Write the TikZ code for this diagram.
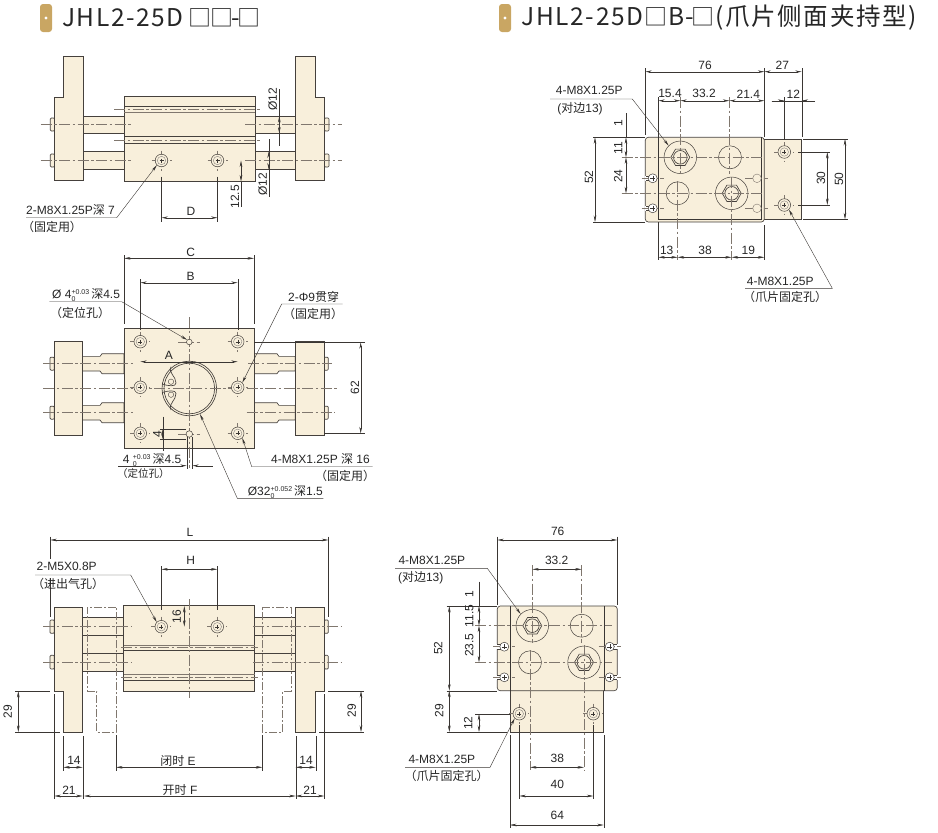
\documentclass[tikz,border=0pt]{standalone}
\usepackage{fontspec}
\setmainfont{Liberation Sans}
\newfontfamily\cjk{Noto Sans CJK SC}
\newfontfamily\titlefont[LetterSpace=6.5]{Noto Sans CJK SC}
\usetikzlibrary{arrows.meta}
\definecolor{creamc}{HTML}{F8EFDB}
\definecolor{goldc}{HTML}{C9A663}
\definecolor{linec}{HTML}{45403C}
\definecolor{thinc}{HTML}{3A3633}
\definecolor{cenc}{HTML}{80776E}
\newcommand\zh[1]{{\cjk #1}}
\newcommand\sq{{\fontsize{23}{26}\selectfont □}}
\newcommand\tol[2]{\ooalign{\raisebox{4pt}{\fontsize{7}{7}\selectfont #1}\hfil\cr\raisebox{-2.5pt}{\fontsize{7}{7}\selectfont #2}\hfil\cr}}
% small threaded hole with its cross
\newcommand\mhole[3]{
    \draw[cline] (#2-10,#3) -- (#2+10,#3) (#2,#3-10) -- (#2,#3+10);
    \node[holeout] (#1) at (#2,#3) {};
    \draw[draw=linec!70,line width=.35pt] (#2,#3) circle [radius=4.2];
    \draw[extl] (#2-2,#3) -- (#2+2,#3) (#2,#3-2) -- (#2,#3+2);
}
% large counterbore with hexagon
\newcommand\hexhole[3]{
    \node[holebig] (#1) at (#2,#3) {};
    \draw[part,fill=none] (#2,#3) +(0:9.5) -- +(60:9.5) -- +(120:9.5) -- +(180:9.5) -- +(240:9.5) -- +(300:9.5) -- cycle;
    \draw[part,fill=none] (#2,#3) circle [radius=6.8];
}
% side slot opening to the plate edge, #4 = -1 left, +1 right
\newcommand\keyslot[4]{
    \fill[white] (#2+#4*3,#3-2.4) rectangle (#2+#4*8,#3+2.4);
    \draw[part,fill=none] (#2+#4*3.5,#3-2.4) -- (#2+#4*7.2,#3-2.4) (#2+#4*3.5,#3+2.4) -- (#2+#4*7.2,#3+2.4);
    \draw[cline] (#2-11,#3) -- (#2+11,#3);
    \node[holeslot] (#1) at (#2,#3) {};
    \draw[extl] (#2-2.5,#3) -- (#2+2.5,#3) (#2,#3-2.5) -- (#2,#3+2.5);
}
\newcommand\dimh[3]{\draw[dimn] (#1,#3) -- (#2,#3);}
\newcommand\dimv[3]{\draw[dimn] (#3,#1) -- (#3,#2);}
\begin{document}
\begin{tikzpicture}
    [x=1pt,y=-1pt,
    part/.style={draw=linec,fill=creamc,line width=.65pt},
    cline/.style={draw=cenc,line width=.45pt,dash pattern=on 11pt off 2.5pt on 2.5pt off 2.5pt},
    ghost/.style={draw=cenc,line width=.45pt,dash pattern=on 8pt off 2pt on 2pt off 2pt},
    extl/.style={draw=thinc,line width=.4pt},
    dimn/.style={draw=thinc,line width=.4pt,{Stealth[length=6.5pt,width=2.6pt]}-{Stealth[length=6.5pt,width=2.6pt]}},
    leader/.style={draw=thinc,line width=.4pt,-{Stealth[length=6.5pt,width=2.6pt]}},
    lbl/.style={inner sep=0pt,text=black!85,font=\fontsize{12}{13}\selectfont},
    titletxt/.style={inner sep=0pt,anchor=west,text=black!85,font=\titlefont\fontsize{24.5}{28}\selectfont},
    holeout/.style={circle,draw=linec,fill=creamc,line width=.5pt,inner sep=0pt,minimum size=12.6pt},
    holebig/.style={circle,draw=linec,fill=creamc,line width=.5pt,inner sep=0pt,minimum size=32.5pt},
    holeplain/.style={circle,draw=linec,fill=creamc,line width=.5pt,inner sep=0pt,minimum size=23pt},
    holeslot/.style={circle,draw=linec,fill=white,line width=.5pt,inner sep=0pt,minimum size=9pt},
    holeghost/.style={circle,draw=cenc,fill=creamc,line width=.4pt,inner sep=0pt,minimum size=8.6pt}]
    \useasboundingbox (0,0) rectangle (938,833);

    % titles
    \fill[goldc,rounded corners=3] (40,4) rectangle (52,32);
    \fill[white] (46,18) circle [radius=1.6];
    \node[titletxt] (titleleft) at (62,18) {JHL2-25D\hspace{5pt}\sq\hspace{-1pt}\sq\hspace{-2.5pt}-\hspace{-2.5pt}\sq};
    \fill[goldc,rounded corners=3] (499,4) rectangle (511,32);
    \fill[white] (505,18) circle [radius=1.6];
    \node[titletxt] (titleright) at (521.5,18) {JHL2-25D\hspace{1pt}\sq\hspace{1pt}B\hspace{1pt}-\hspace{-2pt}\sq\hspace{1pt}(爪片侧面夹持型)};

    % ---- top view ----
    \foreach \ya/\yb in {116/133.5,151.5/169.5}{
        \draw[part] (83,\ya) rectangle (124.3,\yb);
        \draw[part] (255,\ya) rectangle (295.5,\yb);
    }
    \foreach \ya/\yb in {118/131,154/167}{
        \draw[part,rounded corners=1] (50.3,\ya) rectangle (54.5,\yb);
        \draw[part,rounded corners=1] (324.5,\ya) rectangle (329,\yb);
    }
    \draw[part] (63.5,56) -- (83,56) -- (83,180.5) -- (54.5,180.5) -- (54.5,97.5) -- (63.5,97.5) -- cycle;
    \draw[part] (295.5,56) -- (315.5,56) -- (315.5,97.5) -- (324.5,97.5) -- (324.5,180.5) -- (295.5,180.5) -- cycle;
    \draw[part] (124.3,96.5) rectangle (255,181.5);
    \draw[part,fill=none] (124.3,106) -- (255,106) (124.3,136) -- (255,136) (124.3,143.5) -- (255,143.5);
    \draw[draw=cenc,line width=.4pt] (124.3,112) -- (255,112);
    \draw[cline] (114,109.3) -- (260,109.3) (114,140) -- (260,140);
    \foreach \yy in {124.7,160.3}{
        \draw[cline] (40.7,\yy) -- (133,\yy);
        \draw[cline] (245,\yy) -- (342,\yy);
    }
    \mhole{tophole1}{161.5}{160.5}
    \mhole{tophole2}{217.5}{160.5}
    \draw[extl] (161.5,176.5) -- (161.5,221.5) (217.5,176.5) -- (217.5,221.5);
    \dimh{161.5}{217.5}{217.7}
    \draw[extl] (279.3,89) -- (279.3,146);
    \draw[extl] (268.7,139) -- (268.7,196.7);
    \draw[dimn] (279.3,116) -- (279.3,133.5);
    \draw[dimn] (268.7,151.5) -- (268.7,169.5);
    \draw[extl] (241,181.5) -- (241,207);
    \dimv{160.5}{181.5}{241}
    \coordinate (topkink) at (116.7,217.7);
    \coordinate (topend) at (26,217.7);
    \draw[leader] (topend) -- (topkink) -- (tophole1.south west);
    \node[lbl] (topD) at (191,211) {D};
    \node[lbl,rotate=90] (topdia1) at (272.7,99) {Ø12};
    \node[lbl,rotate=90] (topdia2) at (262.7,184) {Ø12};
    \node[lbl,rotate=90] (topdist) at (235,196.7) {12.5};
    \node[lbl,anchor=west] (topnote) at (26,210) {2-M8X1.25P\zh{深} 7};
    \node[lbl] (topfix) at (52,227) {\zh{（固定用）}};

    % ---- plan view ----
    \foreach \yc in {363.7,412.7}{
        \draw[part] (82.3,\yc-7.3) -- (100,\yc-7.3) -- (102,\yc-10) -- (124,\yc-10) -- (124,\yc+10) -- (102,\yc+10) -- (100,\yc+7.3) -- (82.3,\yc+7.3) -- cycle;
        \draw[part] (295.3,\yc-7.3) -- (279,\yc-7.3) -- (277,\yc-10) -- (254,\yc-10) -- (254,\yc+10) -- (277,\yc+10) -- (279,\yc+7.3) -- (295.3,\yc+7.3) -- cycle;
        \draw[part,rounded corners=1] (50,\yc-6.5) rectangle (54.3,\yc+6.5);
        \draw[part,rounded corners=1] (324,\yc-6.5) rectangle (328.3,\yc+6.5);
    }
    \draw[part] (54.3,341.3) rectangle (82.3,435.7);
    \draw[part] (295.3,341.3) rectangle (324,435.7);
    \draw[part] (124,328.3) rectangle (254,448.3);
    \draw[part,fill=none] (189.3,388.5) circle [radius=27.3];
    \draw[part,fill=none] (189.3,388.5) circle [radius=25.3];
    \draw[part,fill=none] (171,366.7) .. controls (168,373) and (176,376) .. (176,383) .. controls (176,387) and (168,386) .. (162,384);
    \draw[part,fill=none] (171,410) .. controls (168,403.6) and (176,400.6) .. (176,393.6) .. controls (176,389.6) and (168,390.6) .. (162,392.6);
    \node[circle,draw=linec,line width=.4pt,inner sep=0pt,minimum size=5.4pt] (planpin1) at (171,381.7) {};
    \node[circle,draw=linec,line width=.4pt,inner sep=0pt,minimum size=5.4pt] (planpin2) at (171,394.7) {};
    \draw[cline] (43.3,363.7) -- (135,363.7) (248,363.7) -- (332,363.7);
    \draw[cline] (43.3,388.7) -- (336.7,388.7);
    \draw[cline] (43.3,412.7) -- (133,412.7) (246.7,412.7) -- (335,412.7);
    \draw[cline] (189.3,317) -- (189.3,468);
    \foreach \xx/\nm in {140.3/a,237.7/b}{
        \mhole{planhole1\nm}{\xx}{341.7}
        \mhole{planhole2\nm}{\xx}{387.3}
        \mhole{planhole3\nm}{\xx}{433.3}
    }
    \draw[cline] (178,342) -- (200,342);
    \node[circle,draw=linec,fill=creamc,line width=.5pt,inner sep=0pt,minimum size=5.6pt] (planpilot) at (189.3,342) {};
    \draw[cline] (178,434) -- (200,434);
    \node[circle,draw=linec,fill=creamc,line width=.5pt,inner sep=0pt,minimum size=6.5pt] (planslot) at (189.3,434) {};
    \draw[extl] (124,255) -- (124,324) (254,255) -- (254,324);
    \dimh{124}{254}{258.3}
    \draw[extl] (140.3,279.3) -- (140.3,330) (237.7,279.3) -- (237.7,330);
    \dimh{140.3}{237.7}{282.7}
    \dimh{140.3}{237.7}{361.7}
    \draw[extl] (254,342.3) -- (365,342.3) (324,433.3) -- (365,433.3);
    \dimv{342.3}{433.3}{360.7}
    \draw[extl] (162.7,416.7) -- (162.7,450.7) (160,429.3) -- (186,429.3) (160,439) -- (186,439);
    \draw[dimn] (162.7,429.3) -- (162.7,439);
    \draw[extl] (186.7,436.7) -- (186.7,469) (192.3,436.7) -- (192.3,469);
    \coordinate (planslotl) at (118.3,465.7);
    \coordinate (planslotm) at (186.7,465.7);
    \coordinate (planslotr) at (212.7,465.7);
    \coordinate (planslotn) at (192.3,465.7);
    \draw[leader] (planslotl) -- (planslotm);
    \draw[leader] (planslotr) -- (planslotn);
    \coordinate (planuA) at (49.3,301.7);
    \coordinate (planuB) at (121.7,301.7);
    \draw[leader] (planuA) -- (planuB) -- (planpilot.north west);
    \coordinate (planuC) at (342.7,304);
    \coordinate (planuD) at (281.7,304);
    \draw[leader] (planuC) -- (planuD) -- (planhole2b.north east);
    \coordinate (planuE) at (372.7,466.7);
    \coordinate (planuF) at (251.7,466.7);
    \draw[leader] (planuE) -- (planuF) -- (planhole3b.south east);
    \coordinate (planuG) at (323.3,498.3);
    \coordinate (planuH) at (237.3,498.3);
    \coordinate (planring) at (200,414);
    \draw[leader] (planuG) -- (planuH) -- (planring);
    \node[lbl] (planC) at (190.7,252.3) {C};
    \node[lbl] (planB) at (190.7,276.7) {B};
    \node[lbl] (planA) at (169,355.7) {A};
    \node[lbl,rotate=90] (plan62) at (355,387.7) {62};
    \node[lbl,rotate=90] (planfour) at (157.3,434) {4};
    \node[lbl,anchor=west] (plannoteA) at (52,295) {Ø 4\tol{+0.03}{0}\,\zh{深}4.5};
    \node[lbl] (planfixA) at (80,312.7) {\zh{（定位孔）}};
    \node[lbl,anchor=west] (plannoteB) at (288,297.3) {2-Φ9\zh{贯穿}};
    \node[lbl] (planfixB) at (313,314) {\zh{（固定用）}};
    \node[lbl,anchor=east] (plannoteC) at (370,459) {4-M8X1.25P \zh{深} 16};
    \node[lbl] (planfixC) at (345,475.7) {\zh{（固定用）}};
    \node[lbl,anchor=west] (plannoteD) at (247.7,492) {Ø32\tol{+0.052}{0}\,\zh{深}1.5};
    \node[lbl,anchor=west] (plannoteE) at (122.7,460) {4 \tol{+0.03}{0}\,\zh{深}4.5};
    \node[lbl,font=\fontsize{10.5}{12}\selectfont] (planfixE) at (143.3,474) {\zh{（定位孔）}};

    % ---- front view ----
    \foreach \xa/\xb in {82.7/123.7,254.7/295.7}{
        \draw[part] (\xa,617.3) rectangle (\xb,671.7);
        \draw[part,fill=none] (\xa,635) -- (\xb,635) (\xa,653.3) -- (\xb,653.3);
    }
    \foreach \ya/\yb in {620/633.3,655.3/669}{
        \draw[part,rounded corners=1] (50,\ya) rectangle (54.3,\yb);
        \draw[part,rounded corners=1] (324.3,\ya) rectangle (328.3,\yb);
    }
    \draw[part] (54.3,607) -- (82.7,607) -- (82.7,732) -- (63.3,732) -- (63.3,691) -- (54.3,691) -- cycle;
    \draw[part] (295.7,607) -- (324.3,607) -- (324.3,691) -- (315.7,691) -- (315.7,732) -- (295.7,732) -- cycle;
    \draw[part] (123.7,605.7) rectangle (254.7,691);
    \draw[draw=cenc,line width=.4pt] (123.7,645) -- (254.7,645) (123.7,674.3) -- (254.7,674.3);
    \draw[part,fill=none] (123.7,650) -- (254.7,650) (123.7,680) -- (254.7,680);
    \draw[cline] (121,647.3) -- (258,647.3) (121,677.3) -- (258,677.3);
    \draw[ghost] (116,607) -- (87.3,607) -- (87.3,691) -- (96.7,691) -- (96.7,732) -- (116,732) -- cycle;
    \draw[ghost] (262.3,607) -- (291,607) -- (291,691) -- (282.7,691) -- (282.7,732) -- (262.3,732) -- cycle;
    \foreach \yy in {626.7,662.3}{
        \draw[cline] (43.3,\yy) -- (131.7,\yy);
        \draw[cline] (253,\yy) -- (341.7,\yy);
    }
    \draw[cline] (189.3,599) -- (189.3,697.7);
    \mhole{fronthole1}{161.3}{626.7}
    \mhole{fronthole2}{217.3}{626.7}
    \draw[extl] (50.3,536.7) -- (50.3,559) (50.3,578) -- (50.3,616.7) (328.3,536.7) -- (328.3,616.7);
    \dimh{50.3}{328.3}{540}
    \draw[extl] (161.3,566) -- (161.3,610) (217.3,566) -- (217.3,610);
    \dimh{161.3}{217.3}{569.3}
    \draw[dimn] (184.3,606) -- (184.3,626.7);
    \draw[extl] (15,691) -- (50,691) (15,732) -- (60,732) (328.3,691) -- (364,691) (319.3,732) -- (364,732);
    \dimv{691}{732}{18.3}
    \dimv{691}{732}{361}
    \draw[extl] (63.3,736) -- (63.3,770.7) (82.7,736) -- (82.7,799.3) (295.7,736) -- (295.7,799.3) (315.7,736) -- (315.7,770.7);
    \draw[extl] (54.3,694) -- (54.3,799.3) (324.3,694) -- (324.3,799.3) (116,735) -- (116,770.7) (262.3,735) -- (262.3,770.7);
    \dimh{63.3}{82.7}{767.3}
    \dimh{295.7}{315.7}{767.3}
    \dimh{116}{262.3}{767.3}
    \dimh{54.3}{82.7}{796}
    \dimh{84}{295.7}{796}
    \dimh{295.7}{324.3}{796}
    \coordinate (frontuA) at (35,575);
    \coordinate (frontuB) at (130.7,575);
    \draw[leader] (frontuA) -- (frontuB) -- (fronthole1.north west);
    \node[lbl] (frontL) at (190,532.3) {L};
    \node[lbl] (frontH) at (190.7,560) {H};
    \node[lbl,rotate=90] (front16) at (176.7,616.7) {16};
    \node[lbl,rotate=90] (front29a) at (7.7,711.7) {29};
    \node[lbl,rotate=90] (front29b) at (351.7,710.7) {29};
    \node[lbl] (front14a) at (74,760) {14};
    \node[lbl] (front14b) at (306,760) {14};
    \node[lbl] (frontE) at (178,760.7) {\zh{闭时} E};
    \node[lbl] (front21a) at (69,790) {21};
    \node[lbl] (frontF) at (180,790) {\zh{开时} F};
    \node[lbl] (front21b) at (310,790) {21};
    \node[lbl,anchor=west] (frontnote) at (36.5,566.7) {2-M5X0.8P};
    \node[lbl] (frontfix) at (68,584.3) {\zh{（进出气孔）}};

    % ---- jaw side view, lower ----
    \draw[part] (510,606) rectangle (603.7,732);
    \draw[part,rounded corners=3] (497.3,606) rectangle (617.3,690.7);
    \draw[extl] (510,606) -- (510,690.7) (603.7,606) -- (603.7,690.7);
    \hexhole{lowhex1}{532.3}{625.7}
    \hexhole{lowhex2}{584}{662.3}
    \node[holeplain] (lowplain1) at (581.7,625.7) {};
    \node[holeplain] (lowplain2) at (530,662.3) {};
    \keyslot{lowslot1}{504.3}{646.7}{-1}
    \keyslot{lowslot2}{504.3}{677.3}{-1}
    \keyslot{lowslot3}{609.7}{646.7}{1}
    \keyslot{lowslot4}{609.7}{677.3}{1}
    \mhole{lowhole1}{519.3}{713.7}
    \mhole{lowhole2}{593.3}{713.7}
    \draw[cline] (475,625.7) -- (611.7,625.7) (475,662.3) -- (611.7,662.3);
    \draw[cline] (532.3,565) -- (532.3,643) (581.7,565) -- (581.7,643);
    \draw[cline] (530,650) -- (530,770) (584,645) -- (584,770);
    \draw[extl] (519.3,725) -- (519.3,799) (593.3,725) -- (593.3,799);
    \draw[extl] (497.3,536.7) -- (497.3,605) (617.3,536.7) -- (617.3,605);
    \dimh{497.3}{617.3}{540}
    \dimh{532.3}{581.7}{569.3}
    \draw[extl] (446.7,606) -- (497.3,606) (446.7,690.7) -- (497.3,690.7) (446.7,732) -- (506.7,732) (475,714) -- (510,714);
    \dimv{606}{690.7}{449.3}
    \dimv{690.7}{732}{449.3}
    \draw[extl] (479,581.7) -- (479,606);
    \draw[dimn] (479,606) -- (479,625.7);
    \dimv{625.7}{662.3}{479}
    \dimv{714}{732}{479}
    \dimh{530}{584}{767.3}
    \dimh{519.3}{593.3}{796}
    \draw[extl] (510,735) -- (510,828) (603.7,735) -- (603.7,828);
    \dimh{510}{603.7}{825}
    \coordinate (lowuA) at (395,568.3);
    \coordinate (lowuB) at (487.3,568.3);
    \draw[leader] (lowuA) -- (lowuB) -- (lowhex1.north west);
    \coordinate (lowuC) at (405,767.3);
    \coordinate (lowuD) at (490,767.3);
    \draw[leader] (lowuC) -- (lowuD) -- (lowhole1.south west);
    \node[lbl] (low76) at (557.7,531) {76};
    \node[lbl] (low33) at (556.7,560) {33.2};
    \node[lbl,rotate=90] (lowa) at (469.3,594) {1};
    \node[lbl,rotate=90] (lowb) at (469.3,616) {11.5};
    \node[lbl,rotate=90] (lowc) at (469.3,645) {23.5};
    \node[lbl,rotate=90] (lowd) at (438.3,648.3) {52};
    \node[lbl,rotate=90] (lowe) at (439.3,710.7) {29};
    \node[lbl,rotate=90] (lowf) at (468.3,723.3) {12};
    \node[lbl] (low38) at (557.3,758.3) {38};
    \node[lbl] (low40) at (557.3,784) {40};
    \node[lbl] (low64) at (557.3,815.3) {64};
    \node[lbl,anchor=west] (lownoteA) at (398.3,560.7) {4-M8X1.25P};
    \node[lbl] (lownoteB) at (420.7,577.3) {(\zh{对边}13)};
    \node[lbl,anchor=west] (lownoteC) at (408.3,759.3) {4-M8X1.25P};
    \node[lbl] (lownoteD) at (446.7,776) {\zh{（爪片固定孔）}};

    % ---- jaw side view, upper ----
    \draw[part] (758,139) rectangle (801.7,219.3);
    \draw[part,rounded corners=3] (645.3,137.3) rectangle (764.3,222);
    \draw[extl] (658.3,137.3) -- (658.3,219.3) -- (761.3,219.3) -- (761.3,137.3);
    \draw[cline] (621.7,157.3) -- (762,157.3) (621.7,193.3) -- (762,193.3);
    \hexhole{uphex1}{680.3}{157.3}
    \hexhole{uphex2}{731.7}{193.3}
    \node[holeplain] (upplain1) at (730,157.3) {};
    \node[holeplain] (upplain2) at (677.7,193.3) {};
    \draw[cline] (621.7,157.3) -- (762,157.3) (621.7,193.3) -- (762,193.3);
    \keyslot{upslot1}{652.7}{178.3}{-1}
    \keyslot{upslot2}{652.7}{208.3}{-1}
    \draw[cline] (745,178.3) -- (768,178.3) (745,208.3) -- (768,208.3);
    \node[holeghost] (upghost1) at (757,178.3) {};
    \node[holeghost] (upghost2) at (757,208.3) {};
    \mhole{uphole1}{784.3}{152}
    \mhole{uphole2}{784.3}{205}
    \draw[cline] (680.3,97) -- (680.3,174) (729.3,97) -- (729.3,174);
    \draw[cline] (677.7,181) -- (677.7,260) (731.7,177) -- (731.7,260);
    \draw[extl] (645.3,68) -- (645.3,135) (764.3,68) -- (764.3,137) (801.7,68) -- (801.7,137);
    \dimh{645.3}{764.3}{71.7}
    \dimh{764.3}{801.7}{71.7}
    \draw[extl] (658.3,97) -- (658.3,137) (658.3,222) -- (658.3,260) (764.3,225) -- (764.3,260) (784.3,97) -- (784.3,140);
    \dimh{658.3}{680.3}{100.7}
    \dimh{680.3}{729.3}{100.7}
    \dimh{729.3}{764.3}{100.7}
    \draw[extl] (771.7,100.7) -- (815,100.7);
    \draw[leader] (771.7,100.7) -- (784.3,100.7);
    \draw[leader] (815,100.7) -- (801.7,100.7);
    \draw[extl] (593,137.3) -- (645.3,137.3) (593,222) -- (645.3,222);
    \dimv{137.3}{222}{595}
    \draw[extl] (626,113.3) -- (626,137.3);
    \draw[dimn] (626,137.3) -- (626,157.3);
    \dimv{157.3}{193.3}{626}
    \draw[extl] (798,152) -- (830,152) (798,205) -- (830,205) (803,139) -- (848.3,139) (803,219.3) -- (848.3,219.3);
    \dimv{152}{205}{827.3}
    \dimv{139}{219.3}{845}
    \dimh{658.3}{677.7}{257.3}
    \dimh{677.7}{731.7}{257.3}
    \dimh{731.7}{764.3}{257.3}
    \coordinate (upuA) at (550,99);
    \coordinate (upuB) at (632.3,99);
    \draw[leader] (upuA) -- (upuB) -- (uphex1.north west);
    \coordinate (upuC) at (745,288.3);
    \coordinate (upuD) at (832.3,288.3);
    \draw[leader] (upuC) -- (upuD) -- (uphole2.south east);
    \node[lbl] (up76) at (705,65.7) {76};
    \node[lbl] (up27) at (782.3,65.7) {27};
    \node[lbl] (upa) at (670,93.3) {15.4};
    \node[lbl] (upb) at (704,93.3) {33.2};
    \node[lbl] (upc) at (748.3,94.3) {21.4};
    \node[lbl] (upd) at (793.3,94.3) {12};
    \node[lbl,rotate=90] (upe) at (618.3,122.7) {1};
    \node[lbl,rotate=90] (upf) at (618.3,148.3) {11};
    \node[lbl,rotate=90] (upg) at (618.3,176) {24};
    \node[lbl,rotate=90] (uph) at (589,177.3) {52};
    \node[lbl,rotate=90] (upi) at (821,178.3) {30};
    \node[lbl,rotate=90] (upj) at (839,179) {50};
    \node[lbl] (up13) at (666.7,250) {13};
    \node[lbl] (up38) at (705,250) {38};
    \node[lbl] (up19) at (748.3,250) {19};
    \node[lbl,anchor=west] (upnoteA) at (555.7,90.7) {4-M8X1.25P};
    \node[lbl] (upnoteB) at (580,108.3) {(\zh{对边}13)};
    \node[lbl,anchor=west] (upnoteC) at (746.7,281.7) {4-M8X1.25P};
    \node[lbl] (upnoteD) at (785,296.7) {\zh{（爪片固定孔）}};
\end{tikzpicture}
\end{document}
